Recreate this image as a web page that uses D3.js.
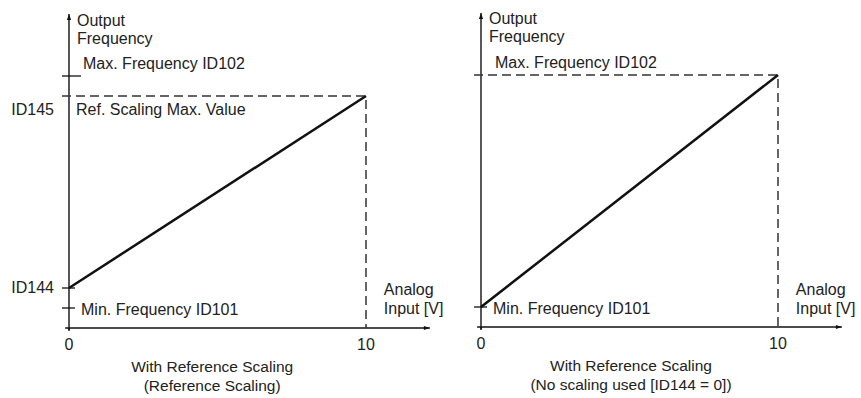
<!DOCTYPE html>
<html><head><meta charset="utf-8">
<script src="https://cdn.jsdelivr.net/npm/d3@7"></script>
<style>
html,body{margin:0;padding:0;background:#fff;}
text{font-family:"Liberation Sans",Arial,sans-serif;font-size:16px;fill:#222;}
text.cap{font-size:15.5px;}
</style></head>
<body><svg id="c" width="861" height="398"></svg>
<script>
// Data (frequency units, analog input in V)
const xTicks = [0, 10];
const inputRange = [0, 10];
const leftLevels = {minFreq: 5, id144: 10, id145: 58, maxFreq: 63};
const rightLevels = {minFreq: 5, maxFreq: 63};
const leftLine = [[0, 10], [10, 58]];
const rightLine = [[0, 5], [10, 63]];
const leftCaption = ["With Reference Scaling", "(Reference Scaling)"];
const rightCaption = ["With Reference Scaling", "(No scaling used [ID144 = 0])"];
const yTitle = ["Output", "Frequency"];
const xTitle = ["Analog", "Input [V]"];

const svg = d3.select("#c");
const defs = svg.append("defs");
defs.append("marker").attr("id","arr").attr("viewBox","0 0 10 10").attr("refX",10).attr("refY",5)
  .attr("markerWidth",12).attr("markerHeight",6).attr("markerUnits","userSpaceOnUse").attr("orient","auto")
  .append("path").attr("d","M0,1.5L10,5L0,8.5Z").attr("fill","#111");

function panel(ox, oy, line, levels, caption, left, capCenter, titleTop) {
  const x = d3.scaleLinear().domain(inputRange).range([ox, ox + 297]);
  const y = d3.scaleLinear().domain([0, 63]).range([oy, oy - 252]);
  const g = svg.append("g");
  const ink = "#111";
  // axes
  g.append("line").attr("x1", x(0)).attr("x2", x(0)).attr("y1", oy + 2).attr("y2", y(78.5))
    .attr("stroke", ink).attr("stroke-width", 1.4).attr("marker-end", "url(#arr)");
  g.append("line").attr("x1", x(-0.13)).attr("x2", x(12.15)).attr("y1", oy).attr("y2", oy)
    .attr("stroke", ink).attr("stroke-width", 1.4).attr("marker-end", "url(#arr)");
  g.selectAll(".xt").data(xTicks).join("text").attr("x", d => x(d)).attr("y", oy + 22)
    .attr("text-anchor", "middle").text(d => d);
  g.append("line").attr("x1", x(0)).attr("x2", x(0)).attr("y1", oy).attr("y2", oy + 3).attr("stroke", ink).attr("stroke-width", 1.4);
  // dashed guides
  const top = left ? levels.id145 : levels.maxFreq;
  g.append("path").attr("d", `M${x(0) - 7},${y(top)}H${x(10)}V${oy}`)
    .attr("fill", "none").attr("stroke", "#333").attr("stroke-width", 1.5).attr("stroke-dasharray", "9,5");
  // ticks on y axis
  const tks = left ? [levels.maxFreq, levels.id144, levels.minFreq] : [levels.minFreq];
  g.selectAll(".yt").data(tks).join("line").attr("x1", x(0) - 7).attr("x2", x(0) + 6)
    .attr("y1", d => y(d)).attr("y2", d => y(d)).attr("stroke", ink).attr("stroke-width", 1.3);
  if (left) {
    g.append("line").attr("x1", x(0) + 6).attr("x2", x(0) + 12).attr("y1", y(levels.maxFreq)).attr("y2", y(levels.maxFreq)).attr("stroke", ink).attr("stroke-width", 1.3);
  }
  // main line
  g.append("path").attr("d", d3.line().x(d => x(d[0])).y(d => y(d[1]))(line))
    .attr("fill", "none").attr("stroke", ink).attr("stroke-width", 2.5);
  // labels
  g.append("text").attr("x", x(0) + 8).attr("y", titleTop).text(yTitle[0]);
  g.append("text").attr("x", x(0) + 8).attr("y", titleTop + 18).text(yTitle[1]);
  g.append("text").attr("x", x(10.6)).attr("y", 295).text(xTitle[0]);
  g.append("text").attr("x", x(10.6)).attr("y", 314).text(xTitle[1]);
  g.append("text").attr("x", x(0) + 14).attr("y", y(levels.maxFreq) - 7).text("Max. Frequency ID102");
  if (left) {
    g.append("text").attr("x", x(0) + 7).attr("y", y(levels.id145) + 19).text("Ref. Scaling Max. Value");
    g.append("text").attr("x", x(0) - 15).attr("y", y(levels.id145) + 19).attr("text-anchor", "end").text("ID145");
    g.append("text").attr("x", x(0) - 15).attr("y", y(levels.id144) + 5).attr("text-anchor", "end").text("ID144");
  }
  g.append("text").attr("x", x(0) + 12).attr("y", y(levels.minFreq) + 7).text("Min. Frequency ID101");
  g.append("text").attr("class", "cap").attr("x", x(capCenter)).attr("y", oy + 44).attr("text-anchor", "middle").text(caption[0]);
  g.append("text").attr("class", "cap").attr("x", x(capCenter)).attr("y", oy + 63).attr("text-anchor", "middle").text(caption[1]);
}
panel(69, 328, leftLine, leftLevels, leftCaption, true, 4.82, 26);
panel(481, 327, rightLine, rightLevels, rightCaption, false, 5.05, 24);
</script></body></html>
